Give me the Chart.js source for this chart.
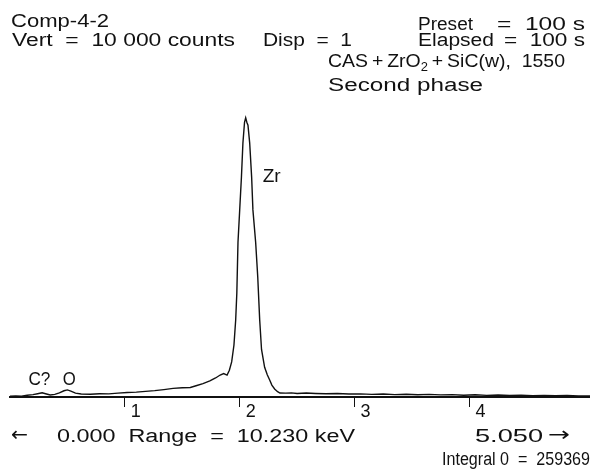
<!DOCTYPE html>
<html>
<head>
<meta charset="utf-8">
<script src="https://cdn.jsdelivr.net/npm/chart.js@4.4.1/dist/chart.umd.min.js"></script>
<style>
  html, body { margin: 0; padding: 0; background: #fff; }
  #wrap { width: 590px; height: 473px; }
</style>
</head>
<body>
<div id="wrap"><canvas id="spec" width="590" height="473"></canvas></div>
<script>
// EDS spectrum, energy in keV, counts
const energies = [
  0.00, 0.05, 0.10, 0.15, 0.20, 0.24, 0.28, 0.31, 0.35, 0.39,
  0.43, 0.47, 0.50, 0.53, 0.57, 0.62, 0.70, 0.78, 0.86, 0.94,
  1.02, 1.10, 1.18, 1.26, 1.34, 1.42, 1.50, 1.57, 1.62, 1.68,
  1.74, 1.79, 1.83, 1.86, 1.89, 1.91, 1.93, 1.95, 1.965, 1.975,
  1.985, 2.000, 2.015, 2.028, 2.042, 2.052, 2.062, 2.072, 2.087, 2.104,
  2.115, 2.139, 2.157, 2.174, 2.19, 2.217, 2.24, 2.261, 2.28, 2.304,
  2.33, 2.35, 2.40, 2.45, 2.50, 2.58, 2.66, 2.75, 2.85, 2.95,
  3.05, 3.15, 3.25, 3.35, 3.45, 3.55, 3.65, 3.75, 3.85, 3.95,
  4.05, 4.15, 4.25, 4.35, 4.45, 4.55, 4.65, 4.75, 4.85, 4.95, 5.05
];
const counts = [
  30, 35, 30, 60, 80, 110, 140, 110, 70, 90,
  140, 210, 240, 200, 130, 100, 95, 110, 105, 130,
  150, 165, 190, 215, 250, 290, 310, 320, 380, 450,
  540, 640, 740, 790, 740, 900, 1180, 1750, 2590, 3500,
  5200, 6300, 7400, 8550, 9250, 9400, 9250, 9150, 8550, 7400,
  6300, 5200, 4050, 2600, 1600, 1000, 750, 570, 400, 270,
  180, 135, 130, 140, 120, 135, 120, 110, 120, 100,
  105, 90, 100, 80, 95, 75, 90, 70, 80, 60,
  75, 55, 65, 50, 60, 45, 55, 40, 50, 35, 35
];
const tickValues = [1, 2, 3, 4];
const peakLabels = ['C?', 'O', 'Zr'];
const peakEnergies = [0.16, 0.46, 2.2];
const peakLabelCounts = [400, 400, 7240];

const FONT = '"Liberation Sans", Arial, sans-serif';
const MAIN = '18px ' + FONT;
const SUB = '12px ' + FONT;
const ARROW = '20px "DejaVu Sans", sans-serif';

// draw one run of text stretched to a width (the printer font is wide)
function fit(ctx, str, x, y, w, font) {
  ctx.font = font || MAIN;
  const m = ctx.measureText(str).width;
  ctx.save();
  ctx.translate(x, y);
  ctx.scale(w / m, 1);
  ctx.fillText(str, 0, 0);
  ctx.restore();
}

const textPlugin = {
  id: 'texts',
  afterDraw(chart) {
    const ctx = chart.ctx;
    const xs = chart.scales.x, ys = chart.scales.y;
    ctx.save();
    ctx.fillStyle = '#111';
    ctx.textBaseline = 'alphabetic';
    ctx.textAlign = 'left';
    fit(ctx, 'Comp-4-2', 11, 27, 98);
    fit(ctx, 'Vert  =  10 000 counts', 12, 46, 223);
    fit(ctx, 'Disp  =  1', 263, 46, 89);
    fit(ctx, 'Preset', 418, 30, 55);
    fit(ctx, '=  100 s', 497, 30, 88);
    fit(ctx, 'Elapsed', 418, 46, 76);
    fit(ctx, '=  100 s', 504, 46, 81);

    // CAS + ZrO2 + SiC(w), 1550 with a subscript, one common stretch
    const a = 'CAS\u2009+\u2009ZrO', b = '\u2009+\u2009SiC(w),  1550';
    ctx.font = MAIN;
    const wa = ctx.measureText(a).width, wb = ctx.measureText(b).width;
    ctx.font = SUB;
    const ws = ctx.measureText('2').width;
    const s = 237 / (wa + ws + wb);
    ctx.save();
    ctx.translate(328, 67);
    ctx.scale(s, 1);
    ctx.font = MAIN;
    ctx.fillText(a, 0, 0);
    ctx.font = SUB;
    ctx.fillText('2', wa, 4);
    ctx.font = MAIN;
    ctx.fillText(b, wa + ws, 0);
    ctx.restore();
    fit(ctx, 'Second phase', 328, 91, 155);

    // peak labels
    const lw = [22, 13, 18];
    for (let i = 0; i < peakLabels.length; i++) {
      fit(ctx, peakLabels[i], xs.getPixelForValue(peakEnergies[i]), ys.getPixelForValue(peakLabelCounts[i]), lw[i]);
    }

    // bottom readout
    fit(ctx, '\u2190', 11, 441, 17, ARROW);
    fit(ctx, '0.000  Range  =  10.230 keV', 57, 442, 298);
    fit(ctx, '5.050', 475, 442, 68);
    fit(ctx, '\u2192', 548, 441, 22, ARROW);
    fit(ctx, 'Integral 0  =  259369', 442, 465, 148);
    ctx.restore();
  }
};

new Chart(document.getElementById('spec'), {
  type: 'line',
  data: {
    datasets: [{
      data: energies.map((e, i) => ({ x: e, y: counts[i] })),
      borderColor: '#111',
      borderWidth: 1.4,
      pointRadius: 0,
      tension: 0,
      fill: false
    }]
  },
  options: {
    responsive: false,
    animation: false,
    devicePixelRatio: 1,
    layout: { padding: { left: 10, right: 0, top: 100, bottom: 0 } },
    plugins: { legend: { display: false }, tooltip: { enabled: false } },
    scales: {
      x: {
        type: 'linear',
        min: 0,
        max: 5.05,
        afterBuildTicks: (axis) => { axis.ticks = tickValues.map(v => ({ value: v })); },
        afterFit: (axis) => { axis.height = 76; },
        border: { display: true, color: '#111', width: 2 },
        grid: { drawOnChartArea: false, drawTicks: true, tickLength: 10, color: '#111', lineWidth: 1 },
        ticks: {
          color: '#111',
          font: { family: FONT, size: 18 },
          padding: -6,
          labelOffset: 11,
          maxRotation: 0,
          callback: (v) => String(v)
        }
      },
      y: {
        display: false,
        min: 0,
        max: 10000
      }
    }
  },
  plugins: [textPlugin]
});
</script>
</body>
</html>
